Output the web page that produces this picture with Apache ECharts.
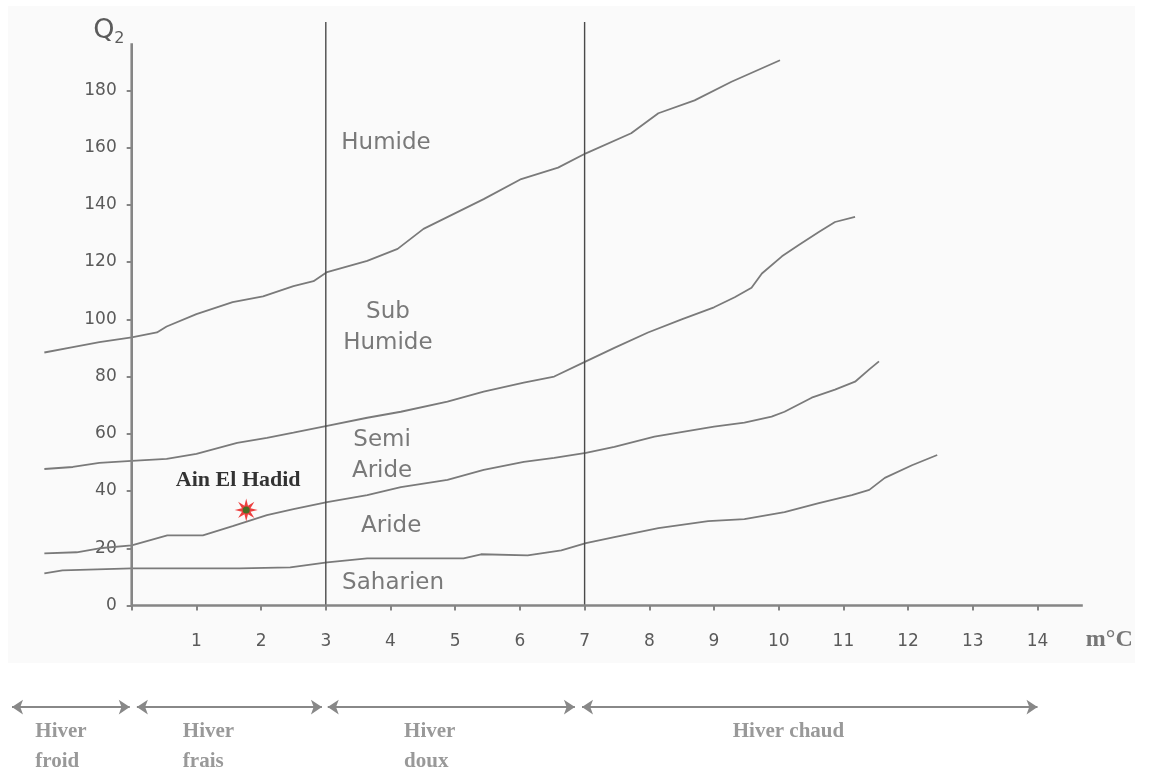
<!DOCTYPE html>
<html>
<head>
<meta charset="utf-8">
<script src="https://cdn.jsdelivr.net/npm/echarts@6/dist/echarts.min.js"></script>
<style>html,body{margin:0;padding:0;background:#fff}#c{width:1149px;height:772px}</style>
</head>
<body>
<div id="c"></div>
<script>
// ---- data ----
const xTickValues = [0,1,2,3,4,5,6,7,8,9,10,11,12,13,14];
const xTickLabels = [1,2,3,4,5,6,7,8,9,10,11,12,13,14];
const yTickLabels = [0,20,40,60,80,100,120,140,160,180];

// Boundary curves (m °C, Q2)
const humideLimit = [[-1.35,88.4],[-0.93,90.2],[-0.5,92],[0,93.7],[0.39,95.4],[0.54,97.5],[1.0,101.8],[1.56,106],[2.03,108],[2.5,111.6],[2.81,113.3],[3.02,116.5],[3.64,120.4],[4.11,124.6],[4.51,131.6],[5.44,142],[6.02,149],[6.59,153],[7.02,158],[7.72,165],[8.14,172],[8.7,176.5],[9.27,183],[10.02,190.5]];
const subHumideLimit = [[-1.35,47.7],[-0.91,48.4],[-0.5,49.8],[0,50.5],[0.54,51.2],[1.0,53],[1.63,56.8],[2.09,58.6],[2.5,60.4],[3.02,62.8],[3.64,65.6],[4.16,67.7],[4.88,71.2],[5.44,74.7],[6.06,77.9],[6.53,80],[7.02,85.3],[7.46,90],[7.98,95.4],[8.5,100],[9.0,104.2],[9.32,107.7],[9.58,111],[9.74,116],[10.05,122],[10.31,126],[10.62,130.5],[10.87,134],[11.18,135.8]];
const semiAridLimit = [[-1.35,18.2],[-0.85,18.6],[-0.5,20],[0,21],[0.55,24.5],[1.1,24.5],[1.56,27.7],[2.09,31.6],[2.5,33.7],[3.02,36.1],[3.64,38.6],[4.16,41.4],[4.88,43.9],[5.44,47.4],[6.06,50.2],[6.53,51.6],[7.02,53.3],[7.46,55.4],[8.08,59],[9.0,62.5],[9.47,63.9],[9.89,66],[10.09,67.7],[10.51,72.6],[10.87,75.4],[11.18,78.2],[11.4,82.5],[11.55,85.3]];
const aridLimit = [[-1.35,11.2],[-1.07,12.3],[0,13],[1.67,13],[2.45,13.3],[3.02,15.1],[3.64,16.5],[4.16,16.5],[5.13,16.5],[5.4,17.9],[6.12,17.5],[6.64,19.3],[7.02,21.8],[7.46,23.9],[8.14,27],[8.91,29.5],[9.47,30.2],[10.09,32.6],[10.62,35.8],[11.13,38.6],[11.4,40.4],[11.64,44.6],[12.06,49],[12.45,52.6]];

// Winter-type boundaries (m °C)
const winterLines = [3, 7];
const winterLineTop = 203.9;
const yAxisTop = 196.5;
const xAxisEnd = 14.7;

// Station
const stationName = 'Ain El Hadid';
const station = [1.77, 33.4];

// Zone names and their anchor (m, Q2)
const zoneNames = ['Humide', 'Sub\nHumide', 'Semi\nAride', 'Aride', 'Saharien'];
const zoneX = [3.93, 3.96, 3.87, 4.01, 4.04];
const zoneY = [161.6, 97.1, 52.4, 27.8, 7.9];

// Winter types
const winterNames = ['Hiver\nfroid', 'Hiver\nfrais', 'Hiver\ndoux', 'Hiver chaud'];
const winterFrom = [-1.85, 0.08, 3.03, 6.96];
const winterTo = [-0.03, 2.94, 6.85, 14.0];
const winterLabelX = [-1.49, 0.79, 4.21, 9.29];
const winterLabelY = [-49.3, -49.3, -49.3, -43.9];
const winterArrowY = -35.5;

// ---- chart ----
const chart = echarts.init(document.getElementById('c'), null, {renderer: 'canvas'});
const GRAY = '#7a7a7a';
const tickFont = {fontFamily: 'DejaVu Sans', fontSize: 17, color: '#5a5a5a'};
const starPath = 'path://M10,0L11.53,6.3L17.07,2.93L13.7,8.47L20,10L13.7,11.53L17.07,17.07L11.53,13.7L10,20L8.47,13.7L2.93,17.07L6.3,11.53L0,10L6.3,8.47L2.93,2.93L8.47,6.3Z';

// grid geometry: m=0 sits 129.4px right of the grid's left edge, Q2=0 sits 171.7px above its bottom
const grid = {left: 2.3, right: 1.5, top: 18.8, bottom: -5.22};
const yAxisShift = -129.4;
const xAxisShift = -171.7;

function curve(name, data) {
  return {name, type: 'line', data, showSymbol: false, symbol: 'none', silent: true,
    lineStyle: {color: GRAY, width: 1.8}, z: 3};
}

const series = [
  curve('Humide', humideLimit),
  curve('Sub-humide', subHumideLimit),
  curve('Semi-aride', semiAridLimit),
  curve('Aride', aridLimit),
  // y axis line
  {type: 'line', data: [[0, 0], [0, yAxisTop]], symbol: 'none', silent: true,
    lineStyle: {color: '#858585', width: 2.6}, z: 4},
  // x axis line + winter arrows
  {type: 'line', data: [[0, 0], [xAxisEnd, 0]], symbol: 'none', silent: true,
    lineStyle: {color: '#858585', width: 2.6}, z: 4,
    markLine: {silent: true, symbol: ['arrow', 'arrow'], symbolSize: 11, animation: false,
      label: {show: false}, emphasis: {disabled: true},
      lineStyle: {color: '#888888', width: 2, type: 'solid'},
      data: winterFrom.map((f, i) => [{coord: [f, winterArrowY]}, {coord: [winterTo[i], winterArrowY]}])}},
  // winter vertical lines
  ...winterLines.map(v => ({type: 'line', data: [[v, 0], [v, winterLineTop]], symbol: 'none', silent: true,
    lineStyle: {color: '#4a4a4a', width: 1.4}, z: 3})),
  // zone labels
  {type: 'scatter', symbolSize: 0, silent: true, z: 5,
    data: zoneNames.map((n, i) => ({name: n, value: [zoneX[i], zoneY[i]]})),
    label: {show: true, position: 'inside', formatter: '{b}', fontFamily: 'DejaVu Sans', fontSize: 23,
      lineHeight: 31, color: '#595959', align: 'center'}},
  // winter labels
  {type: 'scatter', symbolSize: 0, silent: true, z: 5,
    data: winterNames.map((n, i) => ({name: n, value: [winterLabelX[i], winterLabelY[i]]})),
    label: {show: true, position: 'inside', formatter: '{b}', fontFamily: 'Liberation Serif', fontWeight: 'bold',
      fontSize: 21, lineHeight: 30, color: '#808080', align: 'left'}},
  // axis titles
  {type: 'scatter', symbolSize: 0, silent: true, z: 5,
    data: [
      {name: 'Q', value: [-0.43, 200.6], label: {fontSize: 27}},
      {name: '2', value: [-0.19, 198.0], label: {fontSize: 16}},
      {name: 'm°C', value: [15.11, -12.0], label: {fontFamily: 'Liberation Serif', fontWeight: 'bold',
        fontSize: 24, color: '#555'}}
    ],
    label: {show: true, position: 'inside', formatter: '{b}', fontFamily: 'DejaVu Sans', color: '#333'}},
  // station
  {type: 'scatter', symbol: starPath, symbolSize: 23, silent: true, z: 6,
    itemStyle: {color: '#e8100f'},
    data: [{name: stationName, value: station}],
    label: {show: true, position: 'top', distance: 7, offset: [-8, 0], formatter: '{b}',
      fontFamily: 'Liberation Serif', fontWeight: 'bold', fontSize: 22, color: '#000'}},
  {type: 'scatter', symbol: 'circle', symbolSize: 7, silent: true, z: 7,
    itemStyle: {color: '#1f7a1f'}, data: [station]}
];

chart.setOption({
  animation: false,
  backgroundColor: '#ffffff',
  graphic: [{type: 'rect', z: -10, silent: true, shape: {x: 8, y: 6, width: 1127, height: 657},
    style: {fill: '#fafafa'}}],
  grid: Object.assign({containLabel: false, outerBoundsMode: 'none'}, grid),
  xAxis: {type: 'value', min: -2, max: 15.7, interval: 1, position: 'bottom', offset: xAxisShift,
    axisLine: {show: false, onZero: false},
    axisTick: {show: true, customValues: xTickValues, length: 5, lineStyle: {color: '#858585', width: 2}},
    axisLabel: Object.assign({margin: 28,
      formatter: v => xTickLabels.indexOf(v) >= 0 ? String(v) : ''}, tickFont),
    splitLine: {show: false}},
  yAxis: {type: 'value', min: -60, max: 205, interval: 20, position: 'left', offset: yAxisShift,
    axisLine: {show: false, onZero: false},
    axisTick: {show: true, customValues: yTickLabels, length: 5, lineStyle: {color: '#858585', width: 2}},
    axisLabel: Object.assign({margin: 15,
      formatter: v => yTickLabels.indexOf(v) >= 0 ? String(v) : ''}, tickFont),
    splitLine: {show: false}},
  series
});
</script>
</body>
</html>
